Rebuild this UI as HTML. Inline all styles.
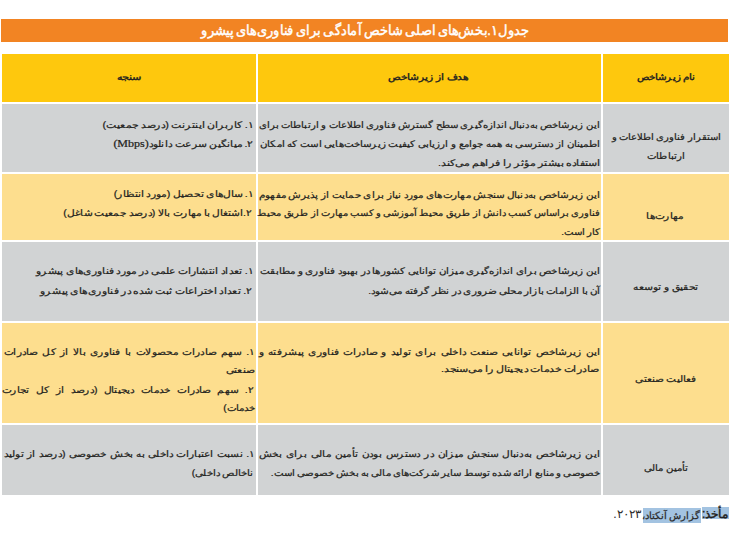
<!DOCTYPE html>
<html lang="fa"><head><meta charset="utf-8"><title>table</title>
<style>
html,body{margin:0;padding:0;background:#fff;}
body{width:733px;height:536px;position:relative;overflow:hidden;font-family:"Liberation Sans",sans-serif;color:#231F20;}
.c{position:absolute;}
.t{position:absolute;white-space:nowrap;direction:rtl;line-height:12px;height:12px;-webkit-text-stroke-width:0.25px;}
.j{text-align:justify;text-align-last:justify;}
.r{text-align:right;}
.m{text-align:center;}
.b{font-weight:bold;}
.hb{-webkit-text-stroke-width:0.45px;}
.s{font-family:"Liberation Serif",serif;font-size:1.12em;}
</style></head><body>

<div class="c" style="left:1px;top:19px;width:727px;height:23px;background:#F28423;"></div>
<div class="c" style="left:2px;top:54px;width:253.8px;height:48.3px;background:#FEC80D;"></div>
<div class="c" style="left:257.7px;top:54px;width:343.1px;height:48.3px;background:#FEC80D;"></div>
<div class="c" style="left:602.7px;top:54px;width:126.3px;height:48.3px;background:#FEC80D;"></div>
<div class="c" style="left:2px;top:104px;width:253.8px;height:67.7px;background:#D1D3D4;"></div>
<div class="c" style="left:257.7px;top:104px;width:343.1px;height:67.7px;background:#D1D3D4;"></div>
<div class="c" style="left:602.7px;top:104px;width:126.3px;height:67.7px;background:#D1D3D4;"></div>
<div class="c" style="left:2px;top:173.8px;width:253.8px;height:66.6px;background:#FDDE8E;"></div>
<div class="c" style="left:257.7px;top:173.8px;width:343.1px;height:66.6px;background:#FDDE8E;"></div>
<div class="c" style="left:602.7px;top:173.8px;width:126.3px;height:66.6px;background:#FDDE8E;"></div>
<div class="c" style="left:2px;top:242.2px;width:253.8px;height:78.5px;background:#D1D3D4;"></div>
<div class="c" style="left:257.7px;top:242.2px;width:343.1px;height:78.5px;background:#D1D3D4;"></div>
<div class="c" style="left:602.7px;top:242.2px;width:126.3px;height:78.5px;background:#D1D3D4;"></div>
<div class="c" style="left:2px;top:322.7px;width:253.8px;height:100.2px;background:#FDDE8E;"></div>
<div class="c" style="left:257.7px;top:322.7px;width:343.1px;height:100.2px;background:#FDDE8E;"></div>
<div class="c" style="left:602.7px;top:322.7px;width:126.3px;height:100.2px;background:#FDDE8E;"></div>
<div class="c" style="left:2px;top:424.9px;width:253.8px;height:69.9px;background:#D1D3D4;"></div>
<div class="c" style="left:257.7px;top:424.9px;width:343.1px;height:69.9px;background:#D1D3D4;"></div>
<div class="c" style="left:602.7px;top:424.9px;width:126.3px;height:69.9px;background:#D1D3D4;"></div>
<div class="c" style="left:642.8px;top:507.9px;width:58.6px;height:14.9px;background:#A3C3E1;"></div>
<div class="c" style="left:701.8px;top:507.2px;width:27px;height:11.5px;background:#A3C3E1;"></div>
<div class="t m hb" id="tt" style="left:335.77px;width:200px;top:24.54px;font-size:13.8px;word-spacing:-1.42px;transform:scale(0.93,1);transform-origin:50% 1.38px;color:#fff;">جدول۱.بخش‌های اصلی شاخص آمادگی برای فناوری‌های پیشرو</div>
<div class="t m hb" id="h1" style="left:565.5px;width:200px;top:72.27px;font-size:10.3px;word-spacing:-0.6px;transform:scale(1.03,0.9);transform-origin:50% 1.03px;">نام زیرشاخص</div>
<div class="t m hb" id="h2" style="left:328.3px;width:200px;top:72.27px;font-size:10.3px;word-spacing:-0.6px;transform:scale(1.06,0.9);transform-origin:50% 1.03px;">هدف از زیرشاخص</div>
<div class="t m hb" id="h3" style="left:29.08px;width:200px;top:71.97px;font-size:10.3px;transform:scale(1.12,0.9);transform-origin:50% 1.03px;">سنجه</div>
<div class="t m" id="r1a" style="left:566.38px;width:200px;top:131.8px;font-size:10px;word-spacing:-0.6px;transform:scale(1,0.9);transform-origin:50% 1px;">استقرار فناوری اطلاعات و</div>
<div class="t m" id="r1b" style="left:565.68px;width:200px;top:151.1px;font-size:10px;transform:scale(1.02,0.9);transform-origin:50% 1px;">ارتباطات</div>
<div class="t j" id="m1a" style="left:261.98px;width:338.02px;top:120px;font-size:10px;word-spacing:-3px;transform:scale(1.01,0.9);transform-origin:100% 1px;">این زیرشاخص به‌دنبال اندازه‌گیری سطح گسترش فناوری اطلاعات و ارتباطات برای</div>
<div class="t j" id="m1b" style="left:270.11px;width:330.59px;top:138.8px;font-size:10px;word-spacing:-3px;transform:scale(1.03,0.9);transform-origin:100% 1px;">اطمینان از دسترسی به همه جوامع و ارزیابی کیفیت زیرساخت‌هایی است که امکان</div>
<div class="t r" id="m1c" style="left:381.4px;width:219.5px;top:157.8px;font-size:10px;word-spacing:-0.6px;transform:scale(1.1,0.9);transform-origin:100% 1px;">استفاده بیشتر مؤثر را فراهم می‌کند.</div>
<div class="t r" id="l1a" style="left:44.35px;width:209.2px;top:120.3px;font-size:10px;word-spacing:-0.6px;transform:scale(1.09,0.9);transform-origin:100% 1px;">۱. کاربران اینترنت (درصد جمعیت)</div>
<div class="t r" id="l1b" style="left:52.85px;width:199.8px;top:138.1px;font-size:10px;word-spacing:-0.6px;transform:scale(1.07,0.9);transform-origin:100% 1px;">۲. میانگین سرعت دانلود<span class="s">(Mbps)</span></div>
<div class="t m" id="r2" style="left:564.6px;width:200px;top:211.1px;font-size:10px;transform:scale(1.06,0.9);transform-origin:50% 1px;">مهارت‌ها</div>
<div class="t j" id="m2a" style="left:271.73px;width:328.27px;top:189.6px;font-size:10px;word-spacing:-3px;transform:scale(1.04,0.9);transform-origin:100% 1px;">این زیرشاخص به‌دنبال سنجش مهارت‌های مورد نیاز برای حمایت از پذیرش مفهوم</div>
<div class="t j" id="m2b" style="left:253.57px;width:345.93px;top:208.4px;font-size:10px;word-spacing:-3px;transform:scale(0.99,0.9);transform-origin:100% 1px;">فناوری براساس کسب دانش از طریق محیط آموزشی و کسب مهارت از طریق محیط</div>
<div class="t r" id="m2c" style="left:500.5px;width:99.5px;top:227.2px;font-size:10px;word-spacing:-0.6px;transform:scale(1.01,0.9);transform-origin:100% 1px;">کار است.</div>
<div class="t r" id="l2a" style="left:55.45px;width:198.1px;top:189.4px;font-size:10px;word-spacing:-0.6px;transform:scale(1.07,0.9);transform-origin:100% 1px;">۱. سال‌های تحصیل (مورد انتظار)</div>
<div class="t r" id="l2b" style="left:3.45px;width:248.3px;top:208px;font-size:10px;word-spacing:-0.6px;transform:scale(1.06,0.9);transform-origin:100% 1px;">۲.اشتغال با مهارت بالا (درصد جمعیت شاغل)</div>
<div class="t m" id="r3" style="left:565.5px;width:200px;top:282.4px;font-size:10px;word-spacing:-0.6px;transform:scale(1.08,0.9);transform-origin:50% 1px;">تحقیق و توسعه</div>
<div class="t j" id="m3a" style="left:269.73px;width:330.27px;top:266px;font-size:10px;word-spacing:-3px;transform:scale(1.03,0.9);transform-origin:100% 1px;">این زیرشاخص برای اندازه‌گیری میزان توانایی کشورها در بهبود فناوری و مطابقت</div>
<div class="t r" id="m3b" style="left:309.5px;width:290.5px;top:285.6px;font-size:10px;word-spacing:-0.6px;transform:scale(1.04,0.9);transform-origin:100% 1px;">آن با الزامات بازار محلی ضروری در نظر گرفته می‌شود.</div>
<div class="t r" id="l3a" style="left:-24.55px;width:278.1px;top:265.6px;font-size:10px;word-spacing:-0.6px;transform:scale(1.07,0.9);transform-origin:100% 1px;">۱. تعداد انتشارات علمی در مورد فناوری‌های پیشرو</div>
<div class="t r" id="l3b" style="left:-20.95px;width:272.7px;top:285.6px;font-size:10px;word-spacing:-0.6px;transform:scale(1.08,0.9);transform-origin:100% 1px;">۲. تعداد اختراعات ثبت شده در فناوری‌های پیشرو</div>
<div class="t m" id="r4" style="left:565.55px;width:200px;top:374.1px;font-size:10px;word-spacing:-0.6px;transform:scale(1.05,0.9);transform-origin:50% 1px;">فعالیت صنعتی</div>
<div class="t j" id="m4a" style="left:278.25px;width:322.45px;top:347.2px;font-size:10px;word-spacing:-3px;transform:scale(1.06,0.9);transform-origin:100% 1px;">این زیرشاخص توانایی صنعت داخلی برای تولید و صادرات فناوری پیشرفته و</div>
<div class="t r" id="m4b" style="left:381.3px;width:217.8px;top:364.1px;font-size:10px;word-spacing:-0.6px;transform:scale(1.1,0.9);transform-origin:100% 1px;">صادرات خدمات دیجیتال را می‌سنجد.</div>
<div class="t j" id="l4a" style="left:18.09px;width:236.51px;top:347.2px;font-size:10px;word-spacing:-3px;transform:scale(1.06,0.9);transform-origin:100% 1px;">۱. سهم صادرات محصولات با فناوری بالا از کل صادرات</div>
<div class="t r" id="l4b" style="left:165.2px;width:89.4px;top:364.7px;font-size:10px;transform:scale(1.07,0.9);transform-origin:100% 1px;">صنعتی</div>
<div class="t j" id="l4c" style="left:16.12px;width:237.08px;top:385px;font-size:10px;word-spacing:-3px;transform:scale(1.06,0.9);transform-origin:100% 1px;">۲. سهم صادرات خدمات دیجیتال (درصد از کل تجارت</div>
<div class="t r" id="l4d" style="left:162.75px;width:92.6px;top:402.6px;font-size:10px;transform:scale(1.03,0.9);transform-origin:100% 1px;">خدمات)</div>
<div class="t m" id="r5" style="left:565.65px;width:200px;top:462.6px;font-size:10px;word-spacing:-0.6px;transform:scale(1.02,0.9);transform-origin:50% 1px;">تأمین مالی</div>
<div class="t j" id="m5a" style="left:277.92px;width:322.08px;top:448.9px;font-size:10px;word-spacing:-3px;transform:scale(1.06,0.9);transform-origin:100% 1px;">این زیرشاخص به‌دنبال سنجش میزان در دسترس بودن تأمین مالی برای بخش</div>
<div class="t r" id="m5b" style="left:208.8px;width:391.2px;top:467.7px;font-size:10px;word-spacing:-0.6px;transform:scale(1.02,0.9);transform-origin:100% 1px;">خصوصی و منابع ارائه شده توسط سایر شرکت‌های مالی به بخش خصوصی است.</div>
<div class="t j" id="l5a" style="left:18.09px;width:236.51px;top:449.2px;font-size:10px;word-spacing:-3px;transform:scale(1.06,0.9);transform-origin:100% 1px;">۱. نسبت اعتبارات داخلی به بخش خصوصی (درصد از تولید</div>
<div class="t r" id="l5b" style="left:132.45px;width:121.1px;top:468px;font-size:10px;word-spacing:-0.6px;transform:scale(1.03,0.9);transform-origin:100% 1px;">ناخالص داخلی)</div>
<div class="t r hb" id="f1" style="left:641.76px;width:86.5px;top:507.69px;font-size:11.94px;">مأخذ:</div>
<div class="t r" id="f2" style="left:582.82px;width:116.9px;top:509.8px;font-size:10px;word-spacing:-1.23px;color:#2a2a2a;">گزارش آنکتاد،</div>
<div class="t r" id="f3" style="left:552.3px;width:88.4px;top:508.05px;font-size:12.24px;color:#2a2a2a;-webkit-text-stroke-width:0;">۲۰۲۳.</div>
</body></html>
